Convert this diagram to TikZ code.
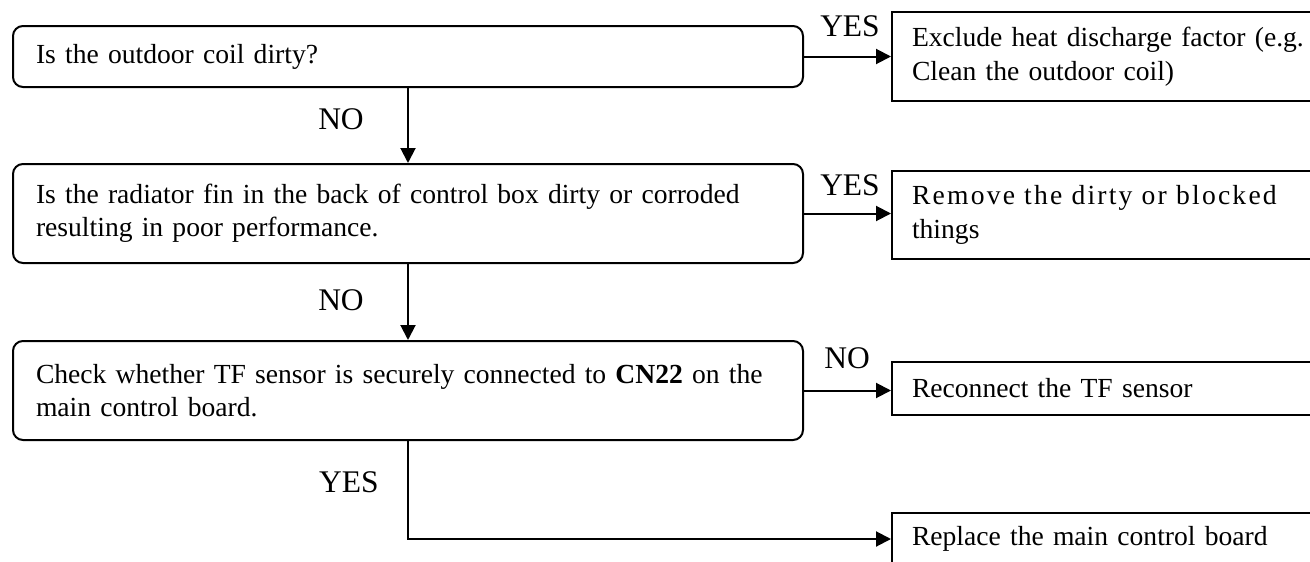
\documentclass[tikz,border=0pt]{standalone}
\usepackage{fontspec}
\setmainfont{Liberation Serif}
\usetikzlibrary{arrows.meta}
\begin{document}
\begin{tikzpicture}[x=1pt,y=-1pt,
  txt/.style={font=\fontsize{27.6pt}{33.5pt}\selectfont},
  qbox/.style={txt, draw, line width=2pt, rounded corners=10pt, text width=744pt,
    inner xsep=23pt, inner ysep=0pt, align=left},
  abox/.style={txt, draw, line width=2pt, text width=400pt, inner xsep=20pt,
    inner ysep=0pt, align=left, anchor=west},
  lbl/.style={font=\fontsize{31.5pt}{36pt}\selectfont, inner sep=0pt},
  conn/.style={line width=2pt, -{Triangle[length=15pt,width=15pt]}}]
\clip (0,0) rectangle (1310,562);
% question boxes
\node[qbox, minimum height=61pt] (b1) at (408,56.5) {Is the outdoor coil dirty?};
\node[qbox, minimum height=99pt] (b2) at (408,213.5)
  {\makebox[744pt][s]{Is the radiator fin in the back of control box dirty or corroded}\\
   resulting in poor performance.};
\node[qbox, minimum height=99pt] (b3) at (408,390.5)
  {\makebox[744pt][s]{Check whether TF sensor is securely connected to \textbf{CN22} on the}\\
   main control board.};
% action boxes
\node[abox, minimum height=89pt] (r1) at (891,56.5)
  {Exclude heat discharge factor (e.g.\\ Clean the outdoor coil)};
\node[abox, minimum height=88pt] (r2) at (891,215)
  {\makebox[382pt][s]{\addfontfeature{LetterSpace=8}Remove the dirty or blocked}\\ things};
\node[abox, minimum height=53pt] (r3) at (891,388.5) {Reconnect the TF sensor};
\node[abox, minimum height=52pt] (r4) at (891,539) {Replace the main control board};
% connectors
\draw[conn] (b1.south) -- (b2.north);
\draw[conn] (b2.south) -- (b3.north);
\draw[conn] (b1.east) -- (b1.east -| r1.west);
\draw[conn] (b2.east) -- (b2.east -| r2.west);
\draw[conn] (b3.east) -- (b3.east -| r3.west);
\draw[conn] (b3.south) |- (r4.west);
% labels
\node[lbl] (l1) at (341,119) {NO};
\node[lbl] (l2) at (341,300) {NO};
\node[lbl] (l3) at (349,482) {YES};
\node[lbl] (l4) at (850,26) {YES};
\node[lbl] (l5) at (850,185) {YES};
\node[lbl] (l6) at (847,358) {NO};
\end{tikzpicture}
\end{document}
